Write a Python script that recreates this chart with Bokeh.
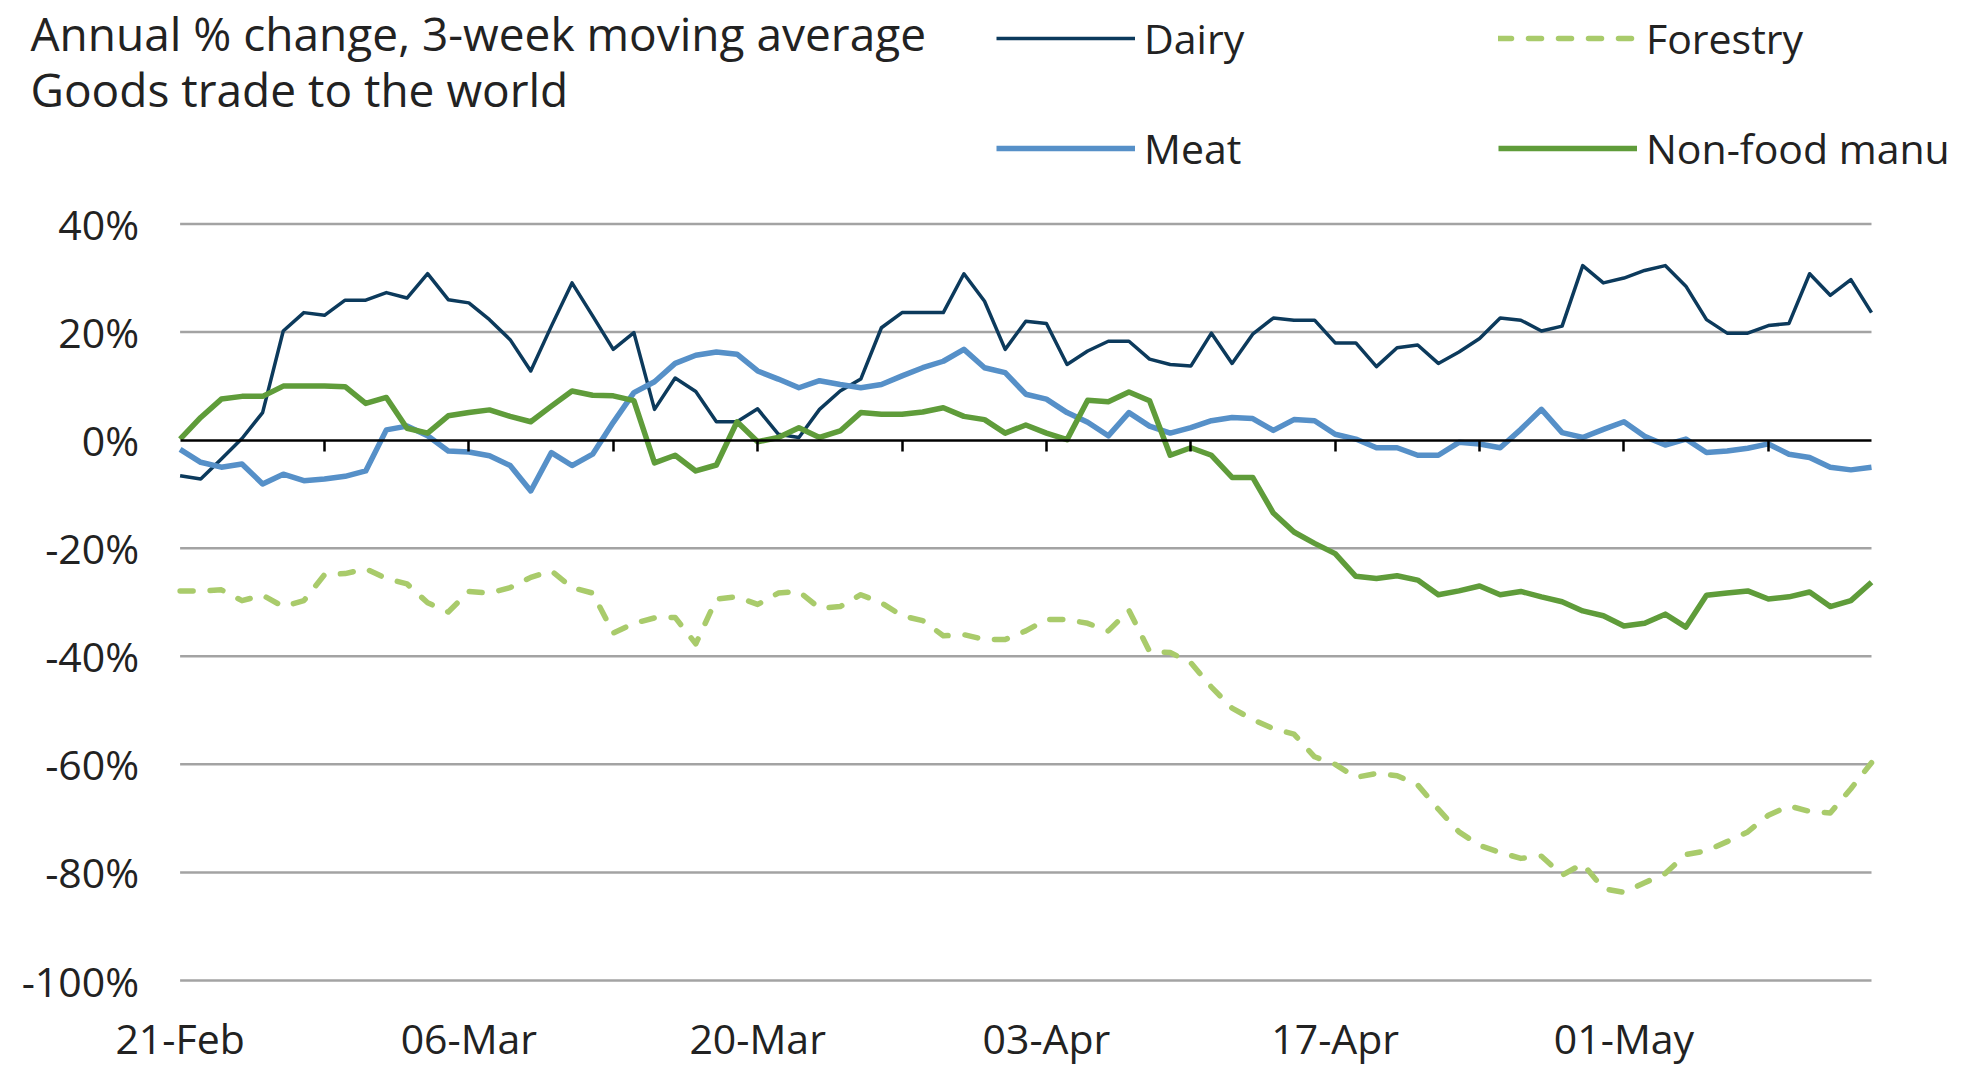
import pandas as pd
from bokeh.plotting import figure
from bokeh.models import (ColumnDataSource, Range1d, FixedTicker, PrintfTickFormatter,
                          DatetimeAxis, LinearAxis, DatetimeTickFormatter, Legend,
                          LegendItem, Label)
from bokeh.embed import file_html
from bokeh.resources import INLINE

# ---------------- data ----------------
START_DATE = "2020-02-21"

dairy = [-6.6, -7.2, -3.5, 0.3, 5.1, 20.2, 23.6, 23.1, 25.9, 25.9,
         27.3, 26.3, 30.8, 26.0, 25.4, 22.3, 18.6, 12.8, 21.1, 29.1,
         23.0, 16.8, 19.9, 5.7, 11.5, 9.0, 3.4, 3.4, 5.8, 1.1,
         0.5, 5.7, 9.1, 11.3, 20.8, 23.6, 23.6, 23.6, 30.8, 25.7,
         16.8, 22.0, 21.6, 14.0, 16.5, 18.3, 18.3, 15.0, 14.0, 13.7,
         19.8, 14.2, 19.6, 22.6, 22.2, 22.2, 18.0, 18.0, 13.6, 17.1,
         17.6, 14.2, 16.3, 18.8, 22.6, 22.2, 20.2, 21.1, 32.3, 29.1,
         30.0, 31.4, 32.3, 28.5, 22.3, 19.8, 19.8, 21.2, 21.6, 30.8,
         26.8, 29.7, 23.6]

forestry = [-27.9, -27.9, -27.7, -29.7, -28.7, -30.8, -29.7, -24.9, -24.7, -23.8,
            -25.6, -26.6, -30.1, -31.8, -28.0, -28.3, -27.3, -25.4, -24.2, -27.3,
            -28.3, -35.7, -33.9, -32.9, -32.8, -37.7, -29.4, -29.0, -30.4, -28.3,
            -28.0, -31.1, -30.8, -28.6, -30.1, -32.5, -33.4, -36.2, -36.0, -36.9,
            -36.9, -35.3, -33.2, -33.2, -33.9, -35.3, -31.5, -39.1, -39.3, -41.2,
            -45.7, -49.6, -51.7, -53.4, -54.4, -58.6, -60.0, -62.4, -61.7, -62.1,
            -63.8, -68.3, -72.5, -75.0, -76.3, -77.4, -77.0, -80.5, -78.4, -83.0,
            -83.7, -81.9, -80.2, -76.7, -76.0, -74.3, -72.5, -69.4, -67.7, -68.7,
            -69.0, -64.5, -59.7]

meat = [-1.7, -4.1, -5.0, -4.4, -8.1, -6.3, -7.5, -7.2, -6.7, -5.7,
        1.9, 2.6, 0.8, -2.0, -2.2, -2.9, -4.7, -9.4, -2.3, -4.7,
        -2.6, 3.3, 8.8, 10.8, 14.2, 15.7, 16.3, 15.9, 12.8, 11.3,
        9.7, 11.0, 10.3, 9.7, 10.3, 11.9, 13.4, 14.6, 16.8, 13.4,
        12.5, 8.5, 7.6, 5.1, 3.3, 0.8, 5.1, 2.6, 1.3, 2.3,
        3.6, 4.2, 4.0, 1.8, 3.8, 3.6, 1.1, 0.2, -1.4, -1.4,
        -2.8, -2.8, -0.4, -0.7, -1.4, 2.0, 5.7, 1.4, 0.5, 2.0,
        3.4, 0.7, -0.9, 0.2, -2.3, -2.0, -1.5, -0.7, -2.6, -3.2,
        -5.0, -5.5, -5.0]

nonfood = [0.2, 4.2, 7.6, 8.1, 8.1, 10.0, 10.0, 10.0, 9.9, 6.8,
           7.9, 2.2, 1.3, 4.5, 5.1, 5.6, 4.4, 3.4, 6.3, 9.1,
           8.3, 8.2, 7.3, -4.2, -2.8, -5.7, -4.6, 3.4, -0.3, 0.5,
           2.3, 0.5, 1.7, 5.1, 4.8, 4.8, 5.2, 6.0, 4.4, 3.8,
           1.3, 2.8, 1.3, 0.1, 7.4, 7.1, 8.9, 7.3, -2.8, -1.4,
           -2.8, -6.9, -6.9, -13.5, -17.0, -19.1, -21.0, -25.2, -25.6, -25.1,
           -25.9, -28.6, -27.9, -27.0, -28.6, -28.0, -29.0, -29.9, -31.6, -32.5,
           -34.4, -33.9, -32.2, -34.6, -28.7, -28.3, -27.9, -29.4, -29.0, -28.1,
           -30.8, -29.7, -26.3]

SERIES_LABELS = ["Dairy", "Forestry", "Meat", "Non-food manu"]
Y_TICKS = [-100, -80, -60, -40, -20, 0, 20, 40]
X_LABEL_STEP_DAYS = 14
X_TICK_STEP_DAYS = 7
TITLE_LINES = ["Annual % change, 3-week moving average", "Goods trade to the world"]

# ---------------- styles / layout ----------------
FONT = "Open Sans"
TXT = "#222222"
STYLES = [
    dict(line_color="#0c3a5c", line_width=3.5),
    dict(line_color="#a9cb6b", line_width=5.5, line_dash="13 17", line_cap="round"),
    dict(line_color="#5690c8", line_width=5.5),
    dict(line_color="#5f9c3a", line_width=5.5),
]
SERIES_KEYS = ["dairy", "forestry", "meat", "nonfood"]

W, H = 1969, 1068               # canvas (page has no margin)
PLOT_L, PLOT_R = 179.6, 1871    # plotting-area edges (canvas px)
PLOT_T, PLOT_B = 223.5, 980     # plotting-area edges (canvas px)

dates = pd.date_range(START_DATE, periods=len(dairy), freq="D")
src = ColumnDataSource(dict(date=dates, dairy=dairy, forestry=forestry,
                            meat=meat, nonfood=nonfood))


def to_ms(ts):
    return int(ts.value // 10**6)


t0, t1 = to_ms(dates[0]), to_ms(dates[-1])
label_ticks = [to_ms(d) for d in dates[::X_LABEL_STEP_DAYS]]
week_ticks = [to_ms(d) for d in dates[X_TICK_STEP_DAYS::X_TICK_STEP_DAYS]]

# the frame spans the whole canvas; ranges are extended so that the data
# area lands on the plotting-area edges
px_per_ms = (PLOT_R - PLOT_L) / (t1 - t0)
x_start = t0 - PLOT_L / px_per_ms
x_end = t1 + (W - PLOT_R) / px_per_ms
px_per_unit = (PLOT_B - PLOT_T) / (Y_TICKS[-1] - Y_TICKS[0])
y_end = Y_TICKS[-1] + PLOT_T / px_per_unit
y_start = Y_TICKS[0] - (H - PLOT_B) / px_per_unit

p = figure(width=W, height=H, x_axis_type="datetime",
           x_axis_location=None, y_axis_location=None,
           x_range=Range1d(x_start, x_end), y_range=Range1d(y_start, y_end),
           output_backend="svg", toolbar_location=None,
           min_border=0, min_border_left=0, min_border_right=0,
           min_border_top=0, min_border_bottom=0)
p.outline_line_color = None
p.grid.visible = False

fmt = DatetimeTickFormatter(days="%d-%b", months="%d-%b", years="%d-%b",
                            hours="%d-%b", context=None)

# horizontal gridlines across the data area only
grid_vals = [t for t in Y_TICKS if t != 0]
grid_src = ColumnDataSource(dict(x0=[t0] * len(grid_vals), x1=[t1] * len(grid_vals),
                                 y=grid_vals))
p.segment(x0="x0", y0="y", x1="x1", y1="y", source=grid_src,
          line_color="#a3a3a3", line_width=2.5)

# y axis labels
yaxis = LinearAxis(fixed_location=t0, ticker=FixedTicker(ticks=Y_TICKS),
                   formatter=PrintfTickFormatter(format="%d%%"),
                   axis_line_color=None, major_tick_line_color=None,
                   minor_tick_line_color=None, major_tick_in=0, major_tick_out=0,
                   major_label_standoff=41, major_label_text_font=FONT,
                   major_label_text_font_size="41px", major_label_text_color=TXT)
p.add_layout(yaxis, "left")

# x axis labels at the bottom
xaxis = DatetimeAxis(fixed_location=Y_TICKS[0], ticker=FixedTicker(ticks=label_ticks),
                     formatter=fmt, axis_line_color=None,
                     major_tick_line_color=None, major_tick_in=0, major_tick_out=0,
                     minor_tick_line_color=None, major_label_standoff=29,
                     major_label_text_font=FONT, major_label_text_font_size="41px",
                     major_label_text_color=TXT)
p.add_layout(xaxis, "below")

# zero axis with weekly tick marks
zaxis = DatetimeAxis(fixed_location=0, bounds=(t0, t1),
                     ticker=FixedTicker(ticks=week_ticks),
                     formatter=fmt, axis_line_color="black", axis_line_width=2.5,
                     major_tick_line_color="black", major_tick_line_width=2.5,
                     major_tick_in=0, major_tick_out=11,
                     minor_tick_line_color=None,
                     major_label_text_alpha=0, major_label_text_font_size="1px")
p.add_layout(zaxis, "below")

renderers = [p.line("date", key, source=src, line_join="round", **st)
             for key, st in zip(SERIES_KEYS, STYLES)]


def make_legend(idx, loc):
    items = [LegendItem(label=SERIES_LABELS[i], renderers=[renderers[i]]) for i in idx]
    return Legend(items=items, orientation="horizontal", location=loc,
                  glyph_width=139, glyph_height=56, label_height=56, label_width=300,
                  label_standoff=9, spacing=54, padding=0, margin=0,
                  border_line_color=None, background_fill_alpha=0,
                  label_text_font=FONT, label_text_font_size="41px",
                  label_text_color=TXT)


p.add_layout(make_legend([0, 1], (996, H - 66)), "center")
p.add_layout(make_legend([2, 3], (996, H - 176)), "center")

for txt, cy in zip(TITLE_LINES, [32, 88]):
    p.add_layout(Label(x=30, y=H - cy, x_units="screen", y_units="screen", text=txt,
                       text_font=FONT, text_font_size="46px", text_color=TXT,
                       text_baseline="middle", text_align="left"))

open("out.html", "w").write(file_html(p, INLINE))
